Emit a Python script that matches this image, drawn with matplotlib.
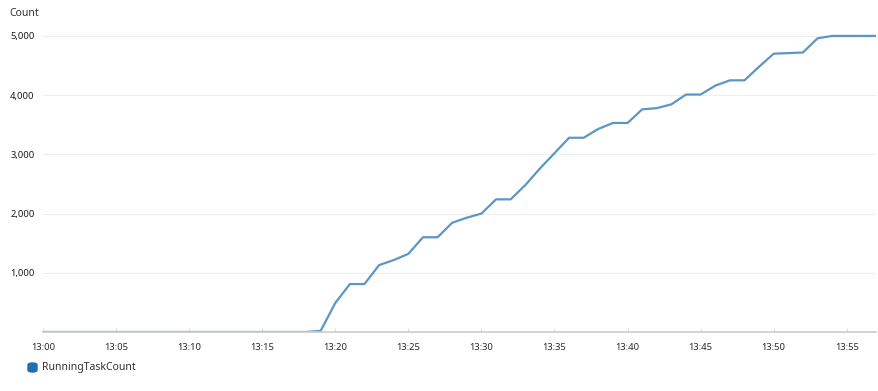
import matplotlib.pyplot as plt
from matplotlib.patches import FancyBboxPatch

plt.rcParams['font.family'] = ['Noto Sans', 'DejaVu Sans']

minutes = list(range(0, 58))
running_task_count = [0] * 19 + [
    20, 490, 810, 810, 1130, 1215, 1320, 1600, 1600, 1845,
    1930, 2000, 2240, 2240, 2480, 2760, 3020, 3280, 3280, 3430,
    3530, 3530, 3760, 3780, 3845, 4010, 4010, 4160, 4250, 4250,
    4480, 4700, 4710, 4720, 4960, 5000, 5000, 5000, 5000,
]
x_ticks = list(range(0, 56, 5))
x_labels = ['13:%02d' % m for m in x_ticks]
y_ticks = [1000, 2000, 3000, 4000, 5000]
y_labels = ['1,000', '2,000', '3,000', '4,000', '5,000']

fig = plt.figure(figsize=(8.79, 3.91), dpi=100)
ax = fig.add_axes([43 / 879, 1 - 332 / 391, 833 / 879, 302 / 391])

ax.plot(minutes, running_task_count, color='#5b97c4', linewidth=1.6, solid_joinstyle='round')

ax.set_xlim(0, 57)
ax.set_ylim(0, 5100)
ax.set_xticks(x_ticks)
ax.set_xticklabels(x_labels, fontsize=6.8, color='#2a2a2a')
ax.set_yticks(y_ticks)
ax.set_yticklabels(y_labels, fontsize=6.8, color='#1a1a1a')
ax.tick_params(axis='x', direction='in', length=3, color='#dddddd', pad=8)
ax.tick_params(axis='y', length=0, pad=6)
ax.grid(True, axis='y', color='#eeeeee', linewidth=0.8)
for side in ['top', 'right', 'left']:
    ax.spines[side].set_visible(False)
ax.spines['bottom'].set_color('#cccccc')
ax.spines['bottom'].set_linewidth(1.2)

fig.text(9 / 879, 1 - 14 / 391, 'Count', fontsize=7.5, color='#333333', va='center')

# legend
fig.patches.append(FancyBboxPatch((28 / 879, 1 - 372 / 391), 9 / 879, 9 / 391,
                                  boxstyle='round,pad=0,rounding_size=0.005',
                                  transform=fig.transFigure, color='#1f6fb5'))
fig.text(42 / 879, 1 - 367.5 / 391, 'RunningTaskCount', fontsize=7.5, color='#333333', va='center')

fig.savefig('out.png', dpi=100)
